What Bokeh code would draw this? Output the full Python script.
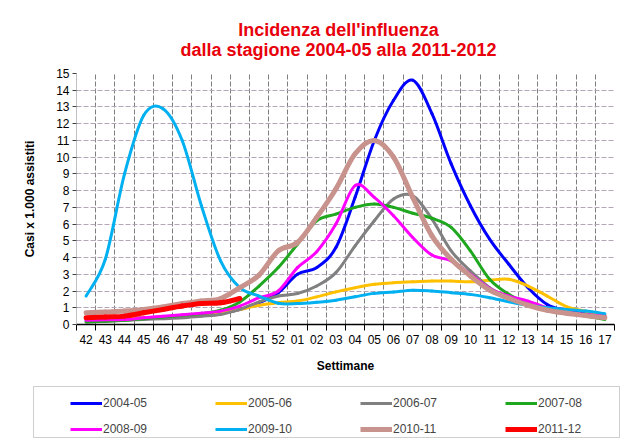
from bokeh.embed import file_html
from bokeh.layouts import column
from bokeh.models import ColumnDataSource, FixedTicker, Label, Legend, LegendItem, Range1d
from bokeh.plotting import figure
from bokeh.resources import INLINE

weeks = ["42", "43", "44", "45", "46", "47", "48", "49", "50", "51", "52",
         "01", "02", "03", "04", "05", "06", "07", "08", "09", "10",
         "11", "12", "13", "14", "15", "16", "17"]

s2004_05 = [0.25, 0.3, 0.35, 0.4, 0.45, 0.5, 0.6, 0.7, 0.9, 1.3, 1.9,
            3.0, 3.4, 4.6, 7.6, 11.0, 13.4, 14.6, 12.6, 9.6, 7.1,
            5.1, 3.6, 2.2, 1.2, 0.85, 0.7, 0.5]
s2005_06 = [0.3, 0.32, 0.35, 0.4, 0.45, 0.5, 0.6, 0.7, 0.9, 1.15, 1.3,
            1.4, 1.65, 1.95, 2.2, 2.4, 2.5, 2.55, 2.6, 2.6, 2.55,
            2.65, 2.7, 2.3, 1.7, 1.07, 0.8, 0.55]
s2006_07 = [0.15, 0.2, 0.25, 0.3, 0.35, 0.4, 0.5, 0.6, 0.9, 1.35, 1.7,
            1.85, 2.3, 3.1, 4.7, 6.2, 7.5, 7.7, 6.3, 4.4, 3.2,
            2.2, 1.6, 1.2, 0.9, 0.7, 0.55, 0.45]
s2007_08 = [0.15, 0.2, 0.25, 0.35, 0.45, 0.55, 0.65, 0.85, 1.35, 2.3, 3.4,
            4.8, 6.2, 6.6, 7.0, 7.2, 7.0, 6.65, 6.35, 5.8, 4.4,
            2.7, 1.8, 1.27, 0.85, 0.65, 0.5, 0.3]
s2008_09 = [0.25, 0.28, 0.3, 0.4, 0.5, 0.58, 0.68, 0.8, 1.1, 1.6, 2.0,
            3.4, 4.35, 6.0, 8.3, 7.6, 6.5, 5.2, 4.15, 3.8, 3.0,
            2.15, 1.7, 1.4, 1.0, 0.75, 0.6, 0.5]
s2009_10 = [1.7, 3.9, 9.0, 12.5, 12.9, 11.0, 7.1, 3.8, 2.2, 1.7, 1.27,
            1.25, 1.33, 1.45, 1.66, 1.86, 1.94, 2.05, 2.0, 1.9, 1.8,
            1.6, 1.36, 1.15, 1.0, 0.9, 0.8, 0.65]
s2010_11 = [0.7, 0.75, 0.8, 0.9, 1.05, 1.25, 1.4, 1.55, 2.2, 2.95, 4.4,
            4.9, 6.4, 8.1, 10.2, 11.0, 10.0, 7.6, 5.3, 3.9, 2.9,
            2.05, 1.57, 1.15, 0.85, 0.67, 0.53, 0.4]
s2011_12 = [0.4, 0.45, 0.5, 0.7, 0.9, 1.1, 1.25, 1.3, 1.55]

seasons = ["2004-05", "2005-06", "2006-07", "2007-08",
           "2008-09", "2009-10", "2010-11", "2011-12"]
series = [s2004_05, s2005_06, s2006_07, s2007_08,
          s2008_09, s2009_10, s2010_11, s2011_12]
colors = ["#0000FF", "#FFC000", "#808080", "#1FA81F",
          "#FF00FF", "#00B0F0", "#C8938D", "#FF0000"]
widths = [3, 3, 3, 3, 3, 3, 5, 5]

title_lines = ["Incidenza dell'influenza", "dalla stagione 2004-05 alla 2011-2012"]

FONT = "Liberation Sans"


def smooth_source(values):
    # Excel-like smoothed line: Catmull-Rom segments as cubic beziers
    xs = [i + 0.5 for i in range(len(values))]
    n = len(values)
    d = {k: [] for k in ("x0", "y0", "x1", "y1", "cx0", "cy0", "cx1", "cy1")}
    for i in range(n - 1):
        a = max(i - 1, 0)
        b = min(i + 2, n - 1)
        d["x0"].append(xs[i])
        d["y0"].append(values[i])
        d["x1"].append(xs[i + 1])
        d["y1"].append(values[i + 1])
        d["cx0"].append(xs[i] + (xs[i + 1] - xs[a]) / 6)
        d["cy0"].append(values[i] + (values[i + 1] - values[a]) / 6)
        d["cx1"].append(xs[i + 1] - (xs[b] - xs[i]) / 6)
        d["cy1"].append(values[i + 1] - (values[b] - values[i]) / 6)
    return ColumnDataSource(d)


def blank_figure(height, y_range):
    f = figure(
        width=633,
        height=height,
        x_range=Range1d(0, 1),
        y_range=y_range,
        output_backend="svg",
        toolbar_location=None,
        x_axis_location=None,
        y_axis_location=None,
        min_border=0,
        outline_line_color=None,
        background_fill_color="white",
        border_fill_color="white",
        frame_align=False,
    )
    f.grid.visible = False
    return f


# title strip
head = blank_figure(65, Range1d(0, 1))
for txt, y in zip(title_lines, (36, 16)):
    head.add_layout(Label(x=338, y=y, x_units="screen", y_units="screen", text=txt,
                          text_align="center", text_baseline="middle",
                          text_font=FONT, text_font_size="18px", text_font_style="bold",
                          text_color="#E8000B"))

p = figure(
    width=633,
    height=315,
    x_range=Range1d(0, len(weeks)),
    y_range=Range1d(0, 15),
    output_backend="svg",
    toolbar_location=None,
    min_border_left=76,
    min_border_right=19,
    min_border_top=8,
    min_border_bottom=56,
    background_fill_color="white",
    border_fill_color="white",
    outline_line_color=None,
    frame_align=False,
)

# axes
p.xaxis.ticker = FixedTicker(ticks=[i + 0.5 for i in range(len(weeks))],
                             minor_ticks=list(range(len(weeks) + 1)))
p.xaxis.major_label_overrides = {i + 0.5: w for i, w in enumerate(weeks)}
p.xaxis.major_tick_line_color = None
p.xaxis.major_tick_out = 6
p.xaxis.minor_tick_out = 6
p.xaxis.minor_tick_in = 0
p.xaxis.minor_tick_line_color = "black"
p.xaxis.axis_line_color = "black"
p.xaxis.axis_line_width = 1.5
p.xaxis.major_label_standoff = 4
p.xaxis.axis_label = "Settimane"
p.xaxis.axis_label_standoff = 12

p.yaxis.ticker = FixedTicker(ticks=list(range(16)))
p.yaxis.minor_tick_line_color = None
p.yaxis.major_tick_out = 4
p.yaxis.major_tick_in = 0
p.yaxis.major_tick_line_color = "#404040"
p.yaxis.axis_line_color = "#C0C0C0"
p.yaxis.major_label_standoff = 3
p.yaxis.axis_label = "Casi x 1.000 assistiti"
p.yaxis.axis_label_standoff = 16

for ax in (p.xaxis, p.yaxis):
    ax.major_label_text_font = FONT
    ax.major_label_text_font_size = "12px"
    ax.major_label_text_color = "black"
    ax.axis_label_text_font = FONT
    ax.axis_label_text_font_size = "12px"
    ax.axis_label_text_font_style = "bold"
    ax.axis_label_text_color = "black"

# grid
p.xgrid.ticker = FixedTicker(ticks=list(range(len(weeks) + 1)))
p.xgrid.grid_line_color = "#7F7F7F"
p.xgrid.grid_line_dash = "5 2"
p.ygrid.grid_line_color = "#B4A6B8"
p.ygrid.grid_line_dash = "5 2"

# legend strip: its y range keeps the proxy series out of view,
# only the legend entries show
leg = blank_figure(58, Range1d(100, 101))

legend_items = []
for name, vals, col, w in zip(seasons, series, colors, widths):
    p.bezier("x0", "y0", "x1", "y1", "cx0", "cy0", "cx1", "cy1",
             source=smooth_source(vals), line_color=col, line_width=w,
             line_cap="round")
    proxy = leg.line(x=list(range(len(vals))), y=vals, line_color=col, line_width=w)
    legend_items.append(LegendItem(label=name, renderers=[proxy]))

frame_proxy = leg.line(x=list(range(len(s2004_05))), y=s2004_05, line_alpha=0)
box = Legend(
    items=[LegendItem(label=" ", renderers=[frame_proxy])],
    location=(33, 0),
    padding=0, margin=0, spacing=0,
    glyph_width=1, glyph_height=50, label_height=50,
    label_width=584, label_standoff=0,
    border_line_color="#A0A0A0", border_line_width=1,
    background_fill_color="white",
)
leg.add_layout(box, "center")

legend = Legend(
    items=legend_items,
    location=(70, 1.5),
    orientation="horizontal",
    ncols=4,
    padding=0, margin=0, spacing=10,
    glyph_width=32, glyph_height=16, label_height=16,
    label_width=102, label_standoff=1,
    label_text_font=FONT, label_text_font_size="12px",
    border_line_color=None,
    background_fill_alpha=0,
)
leg.add_layout(legend, "center")

layout = column(head, p, leg, spacing=0)
open("out.html", "w").write(file_html(layout, INLINE))
